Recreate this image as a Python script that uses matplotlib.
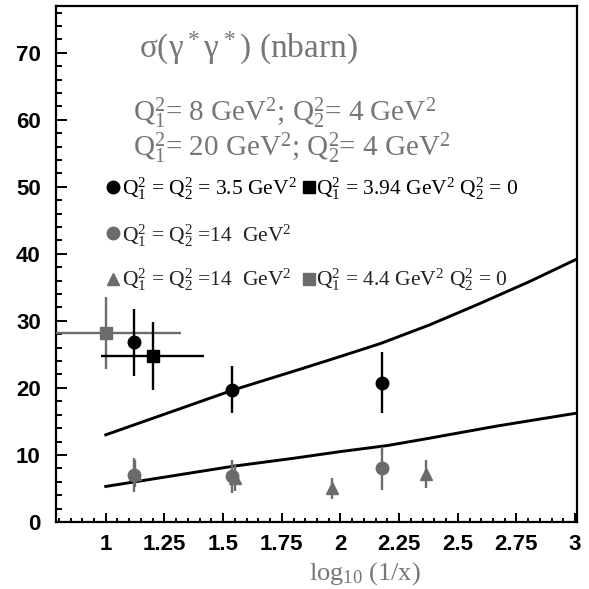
import numpy as np
import matplotlib
matplotlib.use('Agg')
import matplotlib.pyplot as plt

plt.rcParams['font.family'] = ['Liberation Serif', 'DejaVu Serif']
plt.rcParams['mathtext.fontset'] = 'custom'
plt.rcParams['mathtext.rm'] = 'Liberation Serif'
plt.rcParams['mathtext.it'] = 'Liberation Serif'
plt.rcParams['mathtext.bf'] = 'Liberation Serif:bold'

GREY = '#6b6b6b'
TXT_GREY = '#767676'

# black points, Q1^2 = Q2^2 = 3.5 GeV^2
bc_x = [1.12, 1.54, 2.176]
bc_y = [26.8, 19.7, 20.8]
bc_err = [5.0, 3.5, 4.5]

# black square, Q1^2 = 3.94, Q2^2 = 0
bs_x = [1.20]
bs_y = [24.8]
bs_xerr = [0.22]
bs_yerr = [5.1]

# grey circles, Q1^2 = Q2^2 = 14
gc_x = [1.12, 1.54, 2.176]
gc_y = [7.0, 6.8, 8.0]
gc_err = [2.5, 2.5, 3.2]

# grey triangles, Q1^2 = Q2^2 = 14
gt_x = [1.125, 1.55, 1.965, 2.363]
gt_y = [7.2, 6.6, 5.0, 7.2]
gt_err = [2.0, 2.0, 1.5, 2.1]

# grey square, Q1^2 = 4.4, Q2^2 = 0
gs_x = [1.0]
gs_y = [28.2]
gs_xerr = [0.32]
gs_yerr = [5.4]

# theory curves
upper_x = [1.0, 1.26, 1.544, 1.82, 1.956, 2.169, 2.38, 2.595, 2.808, 3.0]
upper_y = [13.0, 16.2, 19.7, 22.7, 24.2, 26.6, 29.4, 32.6, 35.9, 39.1]
lower_x = [1.0, 1.27, 1.54, 1.8, 2.0, 2.2, 2.38, 2.665, 3.0]
lower_y = [5.3, 6.8, 8.3, 9.5, 10.5, 11.4, 12.5, 14.3, 16.2]

xticks = [1, 1.25, 1.5, 1.75, 2, 2.25, 2.5, 2.75, 3]
xticklabels = ['1', '1.25', '1.5', '1.75', '2', '2.25', '2.5', '2.75', '3']
yticks = [0, 10, 20, 30, 40, 50, 60, 70]

fig = plt.figure(figsize=(5.89, 5.89), dpi=100)
ax = fig.add_axes([0.0951, 0.1138, 0.8845, 0.8752])

ax.plot(upper_x, upper_y, color='black', lw=2.1, solid_joinstyle='round')
ax.plot(lower_x, lower_y, color='black', lw=2.1, solid_joinstyle='round')

ax.errorbar(gs_x, gs_y, xerr=gs_xerr, yerr=gs_yerr, fmt='s', color=GREY, ms=8.5,
            elinewidth=1.7, capsize=0, zorder=3)
ax.errorbar(bs_x, bs_y, xerr=bs_xerr, yerr=bs_yerr, fmt='s', color='black', ms=8.5,
            elinewidth=1.7, capsize=0, zorder=4)
ax.errorbar(gt_x, gt_y, yerr=gt_err, fmt='^', color=GREY, ms=8.5,
            elinewidth=1.7, capsize=0, zorder=3)
ax.errorbar(gc_x, gc_y, yerr=gc_err, fmt='o', color=GREY, ms=9,
            elinewidth=1.7, capsize=0, zorder=3)
ax.errorbar(bc_x, bc_y, yerr=bc_err, fmt='o', color='black', ms=9,
            elinewidth=1.7, capsize=0, zorder=4)

ax.set_xlim(0.788, 3.008)
ax.set_ylim(0, 76.9)
ax.set_xticks(xticks)
ax.set_xticklabels(xticklabels)
ax.set_xticks(np.arange(0.8, 3.001, 0.05), minor=True)
ax.set_yticks(yticks)
ax.set_yticks(np.arange(0, 77, 2), minor=True)
ax.tick_params(which='both', direction='in', top=False, right=False, width=1.4)
ax.tick_params(axis='x', which='major', length=6.5, pad=9)
ax.tick_params(axis='x', which='minor', length=3)
ax.tick_params(axis='y', which='major', length=8, pad=11)
ax.tick_params(axis='y', which='minor', length=4.5)
for lab in ax.get_xticklabels() + ax.get_yticklabels():
    lab.set_fontfamily('Liberation Sans')
    lab.set_fontweight('bold')
    lab.set_fontsize(16)
for s in ax.spines.values():
    s.set_linewidth(1.6)

ax.text(0.592, -0.1125, r'log$_{10}$ (1/x)', transform=ax.transAxes, ha='center',
        va='baseline', fontsize=19, color=TXT_GREY)

# annotations
ax.text(1.14, 69.25, r'$\sigma(\gamma^*\gamma^*)$ (nbarn)', fontsize=24,
        color=TXT_GREY, va='baseline')
ax.text(1.117, 59.7, r'Q$_1^2$= 8 GeV$^2$; Q$_2^2$= 4 GeV$^2$', fontsize=21,
        color=TXT_GREY, va='baseline')
ax.text(1.117, 54.5, r'Q$_1^2$= 20 GeV$^2$; Q$_2^2$= 4 GeV$^2$', fontsize=21,
        color=TXT_GREY, va='baseline')

# legend rows
ax.plot([1.03], [50.0], 'o', color='black', ms=9)
ax.text(1.068, 48.8, r'Q$_1^2$ = Q$_2^2$ = 3.5 GeV$^2$', fontsize=15.5, va='baseline')
ax.plot([1.865], [50.0], 's', color='black', ms=8.5)
ax.text(1.895, 48.8, r'Q$_1^2$ = 3.94 GeV$^2$ Q$_2^2$ = 0', fontsize=15.5, va='baseline')

ax.plot([1.03], [43.1], 'o', color=GREY, ms=9)
ax.text(1.068, 41.8, r'Q$_1^2$ = Q$_2^2$ =14  GeV$^2$', fontsize=15.5, va='baseline',
        color='#222222')

ax.plot([1.03], [36.3], '^', color=GREY, ms=9)
ax.text(1.068, 35.2, r'Q$_1^2$ = Q$_2^2$ =14  GeV$^2$', fontsize=15.5, va='baseline',
        color='#222222')
ax.plot([1.865], [36.3], 's', color=GREY, ms=8.5)
ax.text(1.895, 35.2, r'Q$_1^2$ = 4.4 GeV$^2$ Q$_2^2$ = 0', fontsize=15.5, va='baseline',
        color='#222222')

fig.savefig('out.png', dpi=100)
